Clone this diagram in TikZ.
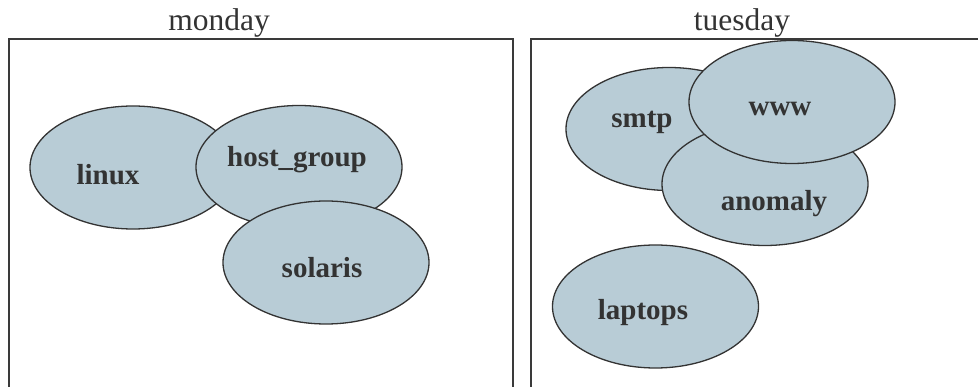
\documentclass[tikz,border=0pt]{standalone}
\usepackage{fontspec}
\setmainfont{Liberation Serif}
\usetikzlibrary{shapes.geometric}
\definecolor{inkgray}{HTML}{333333}
\definecolor{linegray}{HTML}{3A3A3A}
\definecolor{setfill}{HTML}{B8CCD6}
\tikzset{
  daybox/.style={draw=linegray, line width=2pt},
  daytitle/.style={text=inkgray, font=\fontsize{31.5}{33}\selectfont, inner sep=0pt, anchor=base},
  hostset/.style={ellipse, draw=inkgray, line width=1.3pt, fill=setfill,
    minimum width=206pt, minimum height=123pt, inner sep=0pt},
  setlabel/.style={text=inkgray, font=\fontsize{29}{31}\selectfont\bfseries, inner sep=0pt}
}
\begin{document}
\begin{tikzpicture}[x=1pt, y=-1pt]
\useasboundingbox (0,0) rectangle (978,387);
\clip (0,0) rectangle (978,387);

% day panels
\draw[daybox] (9,400) -- (9,39.5) -- (513,39.5) -- (513,400);
\draw[daybox] (531,400) -- (531,39.5) -- (1000,39.5);
\node[daytitle] (mon) at (219,31) {monday};
\node[daytitle] (tue) at (742,31) {tuesday};

% monday sets
\node[hostset] (linux) at (133,167.5) {};
\node[setlabel] at (108,175) {linux};
\node[hostset] (hostgroup) at (299,167) {};
\node[setlabel] at (297,160) {host\_group};
\node[hostset] (solaris) at (326,262.5) {};
\node[setlabel] at (322,268) {solaris};

% tuesday sets
\node[hostset] (smtp) at (669,129) {};
\node[setlabel] at (642,122) {smtp};
\node[hostset] (anomaly) at (765,184) {};
\node[setlabel] at (774,204) {anomaly};
\node[hostset] (www) at (792,102) {};
\node[setlabel] at (780,109) {www};
\node[hostset] (laptops) at (655.5,306.5) {};
\node[setlabel] at (643,313) {laptops};
\end{tikzpicture}
\end{document}
